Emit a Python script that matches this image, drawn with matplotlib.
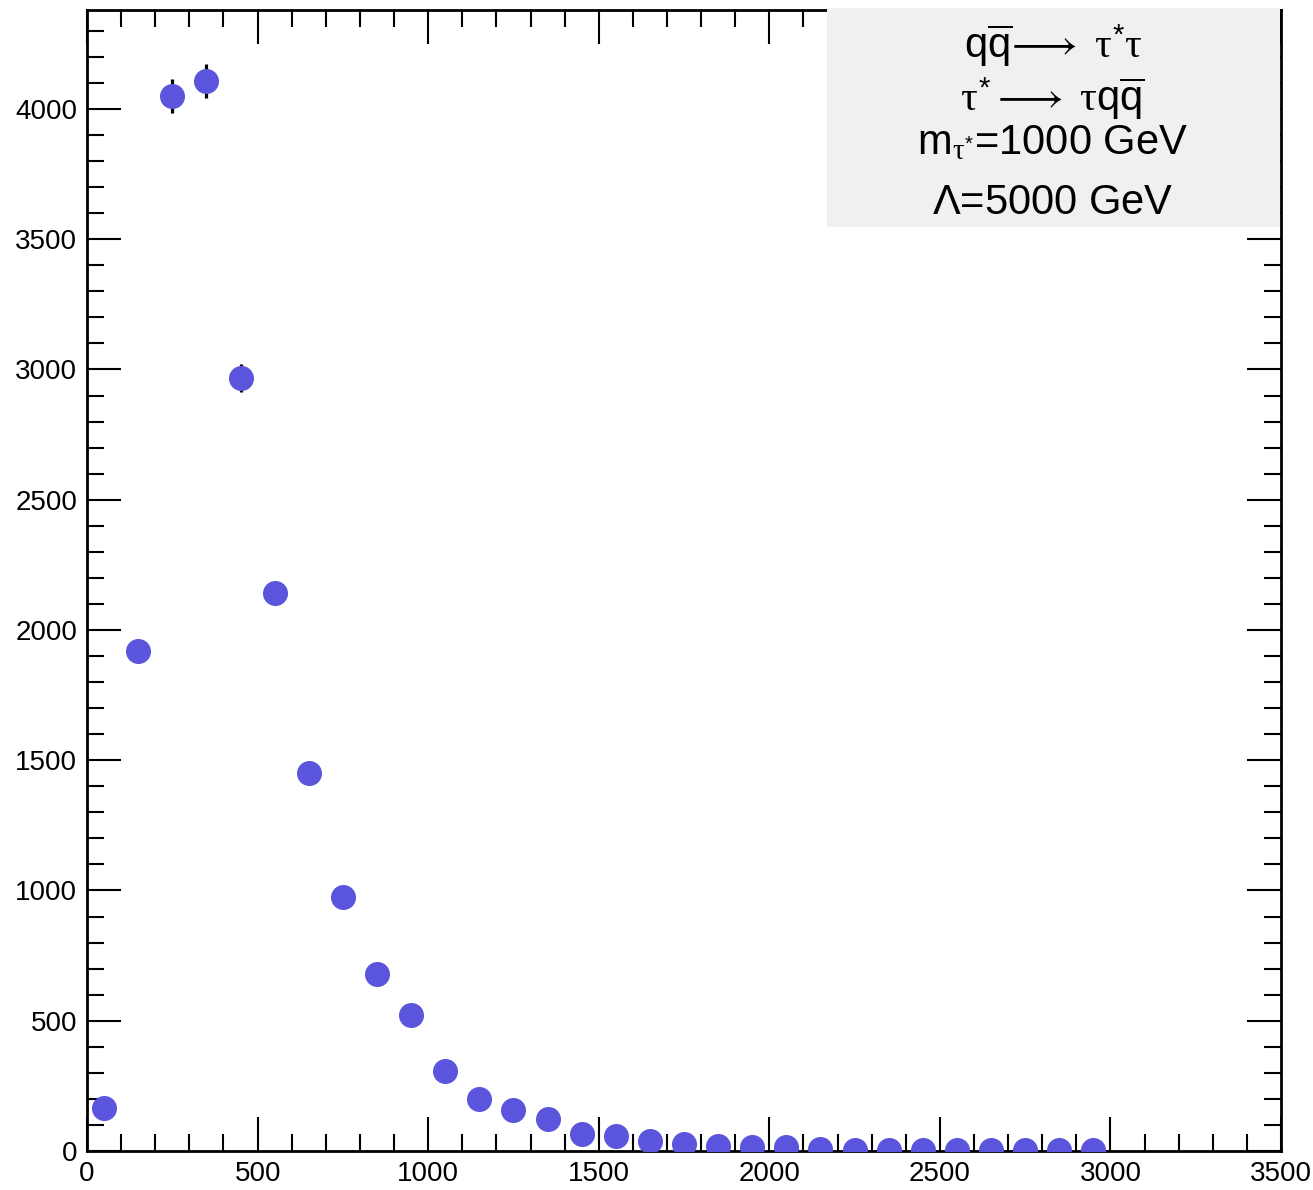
import numpy as np
import matplotlib
matplotlib.use("Agg")
import matplotlib.pyplot as plt
from matplotlib.ticker import MultipleLocator
from matplotlib.patches import Rectangle

plt.rcParams['font.family'] = ['Liberation Sans', 'DejaVu Sans']
plt.rcParams['mathtext.fontset'] = 'custom'
plt.rcParams['mathtext.rm'] = 'Liberation Sans'
plt.rcParams['mathtext.it'] = 'Liberation Serif'

# bin centres and contents
bin_centres = [50, 150, 250, 350, 450, 550, 650, 750, 850, 950,
               1050, 1150, 1250, 1350, 1450, 1550, 1650, 1750, 1850, 1950,
               2050, 2150, 2250, 2350, 2450, 2550, 2650, 2750, 2850, 2950]
counts = [165, 1919, 4050, 4107, 2967, 2142, 1451, 975, 679, 522,
          307, 200, 157, 123, 65, 58, 38, 27, 19, 15,
          15, 8, 5, 4, 4, 4, 3, 3, 3, 2]
errors = np.sqrt(counts)

legend_lines = [r'$\mathrm{q\overline{q}}\!\longrightarrow\ \tau^{*}\tau$',
                r'$\tau^{*}\longrightarrow\ \tau\mathrm{q\overline{q}}$',
                r'm$_{\tau^{*}}$=1000 GeV',
                r'$\Lambda$=5000 GeV']

fig = plt.figure(figsize=(13.13, 11.9), dpi=100)
ax = fig.add_axes([0.0663, 0.0328, 0.9093, 0.9588])

ax.errorbar(bin_centres, counts, yerr=errors, fmt='o', ms=17, color='#5a55dc',
            ecolor='black', elinewidth=2.3, capsize=0, zorder=3)

ax.set_xlim(0, 3500)
ax.set_ylim(0, 4380)
ax.xaxis.set_major_locator(MultipleLocator(500))
ax.xaxis.set_minor_locator(MultipleLocator(100))
ax.yaxis.set_major_locator(MultipleLocator(500))
ax.yaxis.set_minor_locator(MultipleLocator(100))
ax.tick_params(which='both', direction='in', top=True, right=True, width=1.5, labelsize=20)
ax.tick_params(which='major', length=24.5, pad=7)
ax.tick_params(which='minor', length=12)
for s in ax.spines.values():
    s.set_linewidth(2)

# grey text box on top of the frame
ax.add_patch(Rectangle((0.62, 0.81), 0.379, 0.192, transform=ax.transAxes,
                       facecolor='#f0f0f0', edgecolor='none', clip_on=False, zorder=5))
ypos = [0.968, 0.922, 0.883, 0.831]
for txt, yy in zip(legend_lines, ypos):
    ax.text(0.809, yy, txt, transform=ax.transAxes, ha='center', va='center',
            fontsize=30, zorder=6)

plt.savefig('out.png', dpi=100)
